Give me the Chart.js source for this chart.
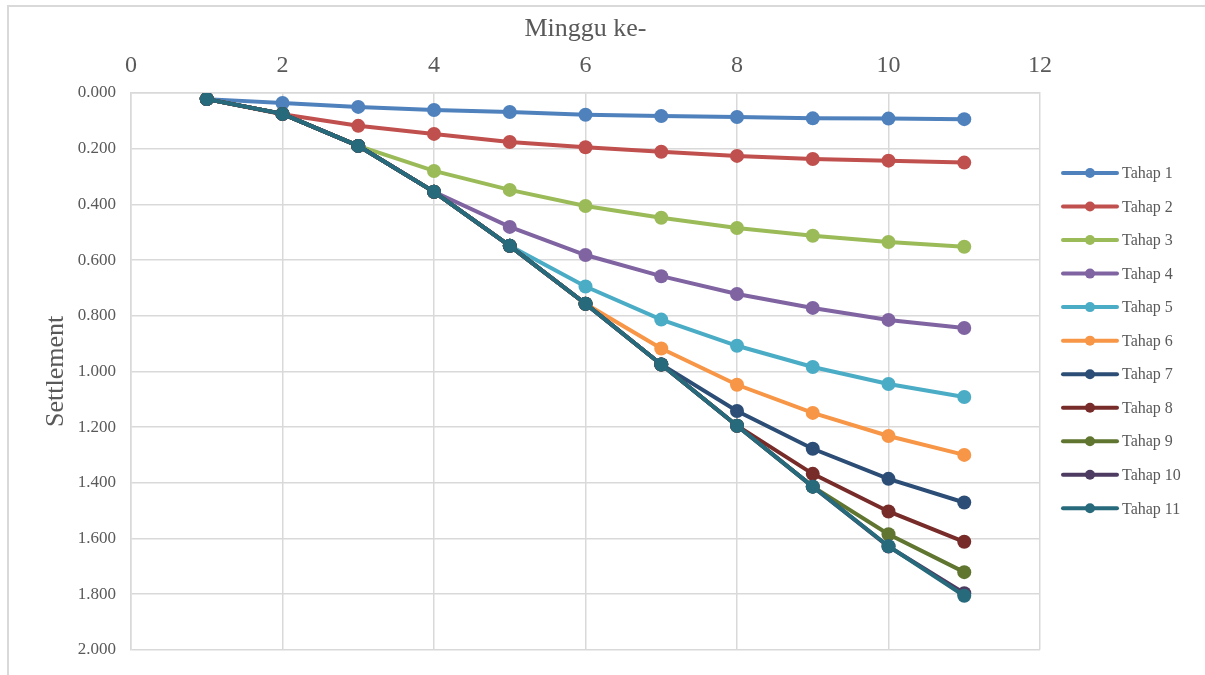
<!DOCTYPE html>
<html>
<head>
<meta charset="utf-8">
<script src="https://cdn.jsdelivr.net/npm/chart.js@4"></script>
<style>
  html, body { margin: 0; padding: 0; background: #fff; }
  #wrap { position: relative; width: 1205px; height: 675px; overflow: hidden; }
  #frame { position: absolute; left: 7px; top: 5px; width: 1300px; height: 800px;
           border: 2px solid #d9d9d9; box-sizing: border-box; pointer-events: none; }
  canvas { position: absolute; left: 0; top: 0; }
</style>
</head>
<body>
<div id="wrap">
  <canvas id="c" width="1205" height="675"></canvas>
  <div id="frame"></div>
</div>
<script>
// Week numbers (x values)
const weeks = [1, 2, 3, 4, 5, 6, 7, 8, 9, 10, 11];

// Settlement per stage
const tahap1  = [0.022, 0.036, 0.050, 0.061, 0.068, 0.078, 0.083, 0.086, 0.091, 0.092, 0.094];
const tahap2  = [0.022, 0.076, 0.118, 0.147, 0.176, 0.195, 0.211, 0.226, 0.237, 0.243, 0.250];
const tahap3  = [0.022, 0.075, 0.190, 0.280, 0.348, 0.406, 0.448, 0.485, 0.513, 0.535, 0.552];
const tahap4  = [0.022, 0.075, 0.190, 0.355, 0.481, 0.582, 0.658, 0.722, 0.772, 0.815, 0.844];
const tahap5  = [0.022, 0.075, 0.190, 0.355, 0.549, 0.695, 0.814, 0.908, 0.984, 1.045, 1.092];
const tahap6  = [0.022, 0.075, 0.190, 0.355, 0.549, 0.757, 0.918, 1.048, 1.149, 1.232, 1.300];
const tahap7  = [0.022, 0.075, 0.190, 0.355, 0.549, 0.757, 0.975, 1.142, 1.278, 1.386, 1.471];
const tahap8  = [0.022, 0.075, 0.190, 0.355, 0.549, 0.757, 0.975, 1.195, 1.368, 1.503, 1.612];
const tahap9  = [0.022, 0.075, 0.190, 0.355, 0.549, 0.757, 0.975, 1.195, 1.414, 1.585, 1.721];
const tahap10 = [0.022, 0.075, 0.190, 0.355, 0.549, 0.757, 0.975, 1.195, 1.414, 1.629, 1.797];
const tahap11 = [0.022, 0.075, 0.190, 0.355, 0.549, 0.757, 0.975, 1.195, 1.414, 1.628, 1.806];

const seriesLabels = ['Tahap 1', 'Tahap 2', 'Tahap 3', 'Tahap 4', 'Tahap 5', 'Tahap 6',
                      'Tahap 7', 'Tahap 8', 'Tahap 9', 'Tahap 10', 'Tahap 11'];
const seriesValues = [tahap1, tahap2, tahap3, tahap4, tahap5, tahap6,
                      tahap7, tahap8, tahap9, tahap10, tahap11];
const seriesColors = ['#4F81BD', '#C0504D', '#9BBB59', '#8064A2', '#4BACC6', '#F79646',
                      '#2C4D75', '#772C2A', '#5F7530', '#4D3B62', '#276A7C'];

const SERIF = "'Liberation Serif', 'Times New Roman', serif";
const TEXT = '#595959';
const GRID = '#d9d9d9';

const datasets = seriesLabels.map((label, i) => ({
  label,
  data: weeks.map((w, j) => ({ x: w, y: seriesValues[i][j] })),
  borderColor: seriesColors[i],
  backgroundColor: seriesColors[i],
  borderWidth: 4,
  pointRadius: 7,
  pointHoverRadius: 7,
  pointBorderWidth: 0,
  tension: 0,
  // later stages drawn on top
  order: seriesLabels.length - 1 - i
}));

// Legend on the right: line with a marker, followed by the series name
const sideLegend = {
  id: 'sideLegend',
  afterDraw(chart) {
    const ctx = chart.ctx;
    const x0 = 1063, x1 = 1117, xText = 1122;
    const yStart = 173, step = 33.53;
    ctx.save();
    ctx.font = '16px ' + SERIF;
    ctx.textBaseline = 'middle';
    ctx.textAlign = 'left';
    chart.data.datasets.forEach((ds, i) => {
      const y = yStart + i * step;
      ctx.strokeStyle = ds.borderColor;
      ctx.lineWidth = 4;
      ctx.lineCap = 'round';
      ctx.beginPath();
      ctx.moveTo(x0, y);
      ctx.lineTo(x1, y);
      ctx.stroke();
      ctx.fillStyle = ds.backgroundColor;
      ctx.beginPath();
      ctx.arc((x0 + x1) / 2, y, 5, 0, Math.PI * 2);
      ctx.fill();
      ctx.fillStyle = TEXT;
      ctx.fillText(ds.label, xText, y + 1);
    });
    ctx.restore();
  }
};

new Chart(document.getElementById('c'), {
  type: 'line',
  data: { datasets },
  plugins: [sideLegend],
  options: {
    responsive: false,
    animation: false,
    layout: { padding: { left: 0, right: 165, top: 0, bottom: 25 } },
    plugins: { legend: { display: false }, tooltip: { enabled: false } },
    scales: {
      x: {
        type: 'linear',
        position: 'top',
        min: 0,
        max: 12,
        ticks: { stepSize: 2, color: TEXT, padding: 13, font: { family: SERIF, size: 24 } },
        grid: { color: GRID, lineWidth: 1.5, drawTicks: false },
        border: { color: GRID, width: 1.5 },
        title: { display: true, text: 'Minggu ke-', color: TEXT,
                 font: { family: SERIF, size: 26 }, padding: { top: 14, bottom: 0 } },
        afterFit(scale) { scale.height = 93; }
      },
      y: {
        type: 'linear',
        reverse: true,
        min: 0,
        max: 2,
        ticks: { stepSize: 0.2, color: TEXT, padding: 15, font: { family: SERIF, size: 17 },
                 callback: v => Number(v).toFixed(3) },
        grid: { color: GRID, lineWidth: 1.5, drawTicks: false },
        border: { color: GRID, width: 1.5 },
        title: { display: true, text: 'Settlement', color: TEXT,
                 font: { family: SERIF, size: 26 }, padding: { top: 41, bottom: 0 } },
        afterFit(scale) { scale.width = 131; }
      }
    }
  }
});
</script>
</body>
</html>
